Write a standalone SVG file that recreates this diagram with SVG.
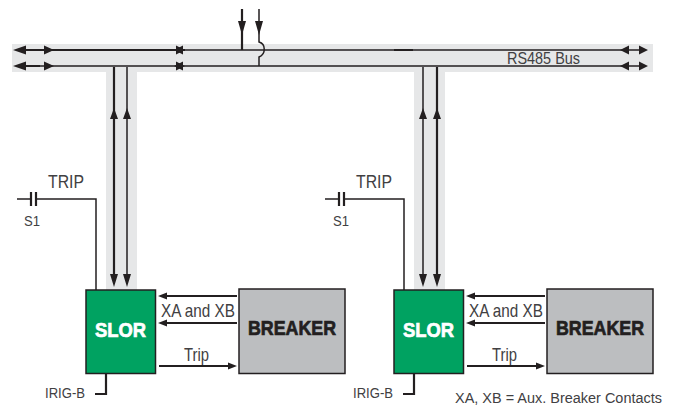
<svg xmlns="http://www.w3.org/2000/svg" width="677" height="407" viewBox="0 0 677 407">
<style>
.band{fill:#e6e7e8}
.l{fill:none;stroke:#231f20;stroke-width:1.5}
.w{fill:none;stroke:#231f20;stroke-width:2.200}
.h{fill:#231f20}
.box{stroke:#231f20;stroke-width:1.5}
text{font-family:"Liberation Sans",Arial,sans-serif;fill:#414042}
.t{font-size:19px}
.s{font-size:15.500px}
.b{font-weight:bold;font-size:20px;stroke-width:.7px}
</style>
<defs>
<g id="contact">
<path class="l" d="M17 199H30M37 199H96V290"/>
<path class="w" d="M31 192V206M36 192V206"/>
</g>
</defs>
<g id="bus-bands">
<rect class="band" x="12" y="44" width="641" height="28"/>
<rect class="band" x="106" y="72" width="31" height="218"/>
<rect class="band" x="414" y="72" width="31" height="218"/>
</g>
<g id="connectors">
<path class="l" d="M20 50H640M20 66H640"/>
<path class="w" d="M20 50H185M20 66H40M394 50H413"/>
<path class="w" d="M114 67V280M437 67V280M242 9V50"/>
<path class="l" d="M127 67V280M423 67V280"/>
<path class="l" d="M259 9V42C266 44 266 54 259 57V66"/>
<path class="h" d="M13 50l13-4.500v9zM54 50l-10-4.500v9zM13 66l13-4.500v9zM54 66l-10-4.500v9z"/>
<path class="h" d="M185 50l-9-4.500v9zM185 66l-9-4.500v9z"/>
<path class="h" d="M174 50l9-4.500v9zM174 66l9-4.500v9z"/>
<path class="h" d="M620 50l9-4.500v9zM648 50l-9-4.500v9zM620 66l9-4.500v9zM648 66l-9-4.500v9z"/>
<path class="h" d="M242 35l-4-14h8zM259 35l-4-14h8z"/>
<path class="h" d="M114 108l-4 11h8zM127 108l-4 11h8zM423 108l-4 11h8zM437 108l-4 11h8z"/>
<path class="h" d="M114 287l-4-13h8zM127 287l-4-13h8zM423 287l-4-13h8zM437 287l-4-13h8z"/>
<g id="links-left">
<path class="w" d="M237 296H165M237 323H165M159 366H231M106 373V394H95"/>
<path class="h" d="M158 296l9-3.500v7zM158 323l9-3.500v7zM237 366l-9-3.500v7z"/>
<use href="#contact"/>
</g>
<g id="links-right" transform="translate(308 0)">
<path class="w" d="M237 296H165M237 323H165M159 366H231M106 373V394H95"/>
<path class="h" d="M158 296l9-3.500v7zM158 323l9-3.500v7zM237 366l-9-3.500v7z"/>
<use href="#contact"/>
</g>
</g>
<g id="slor-left"><rect class="box" x="86" y="290" width="69.500" height="83.500" fill="#00a261"/><text class="b" x="95" y="337" textLength="51" lengthAdjust="spacingAndGlyphs" style="fill:#fff;stroke:#fff">SLOR</text></g>
<g id="breaker-left"><rect class="box" x="239" y="289" width="106" height="84.500" fill="#bcbec0"/><text class="b" x="248" y="335" textLength="88" lengthAdjust="spacingAndGlyphs" style="fill:#231f20;stroke:#231f20">BREAKER</text></g>
<g id="slor-right"><rect class="box" x="394" y="290" width="69.500" height="83.500" fill="#00a261"/><text class="b" x="403" y="337" textLength="51" lengthAdjust="spacingAndGlyphs" style="fill:#fff;stroke:#fff">SLOR</text></g>
<g id="breaker-right"><rect class="box" x="547" y="289" width="106" height="84.500" fill="#bcbec0"/><text class="b" x="556" y="335" textLength="88" lengthAdjust="spacingAndGlyphs" style="fill:#231f20;stroke:#231f20">BREAKER</text></g>
<g id="labels">
<text class="t" x="48" y="188" textLength="36" lengthAdjust="spacingAndGlyphs">TRIP</text>
<text class="s" x="24" y="226" textLength="16" lengthAdjust="spacingAndGlyphs">S1</text>
<text class="t" x="161" y="317" textLength="74" lengthAdjust="spacingAndGlyphs">XA and XB</text>
<text class="t" x="184" y="360.500" textLength="25" lengthAdjust="spacingAndGlyphs">Trip</text>
<text class="s" x="45" y="398" textLength="40" lengthAdjust="spacingAndGlyphs">IRIG-B</text>
<text class="t" x="356" y="188" textLength="36" lengthAdjust="spacingAndGlyphs">TRIP</text>
<text class="s" x="333" y="226" textLength="16" lengthAdjust="spacingAndGlyphs">S1</text>
<text class="t" x="469" y="317" textLength="74" lengthAdjust="spacingAndGlyphs">XA and XB</text>
<text class="t" x="492" y="360.500" textLength="25" lengthAdjust="spacingAndGlyphs">Trip</text>
<text class="s" x="353" y="398" textLength="40" lengthAdjust="spacingAndGlyphs">IRIG-B</text>
<text class="s" x="507" y="64" textLength="73" lengthAdjust="spacingAndGlyphs" style="font-size:17px">RS485 Bus</text>
<text class="s" x="455" y="403" textLength="207" lengthAdjust="spacingAndGlyphs">XA, XB = Aux. Breaker Contacts</text>
</g>
</svg>
